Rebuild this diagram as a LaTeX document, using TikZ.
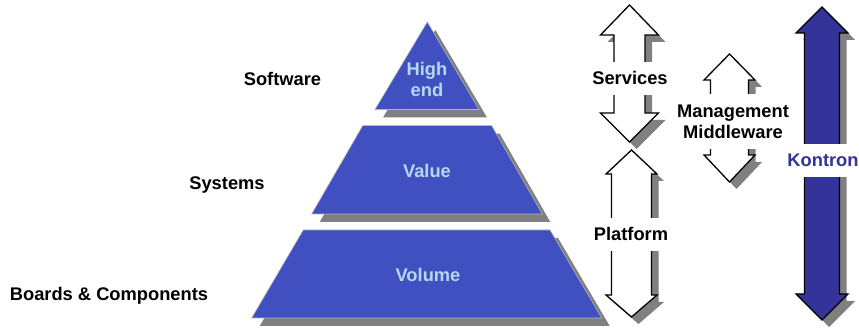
\documentclass[tikz,border=0pt]{standalone}
\usepackage{fontspec}
\setmainfont{Liberation Sans}
\usetikzlibrary{calc}
\definecolor{pyrblue}{RGB}{64,80,192}
\definecolor{pyrtext}{RGB}{178,218,238}
\definecolor{kblue}{RGB}{51,51,153}
\definecolor{shadowgray}{RGB}{128,128,128}
\tikzstyle{layer}=[fill=pyrblue,draw=gray!60,line width=0.6pt]
\tikzstyle{arrowshape}=[draw=black,line width=1.3pt,line join=miter]
\tikzstyle{bigfont}=[font=\bfseries\fontsize{18.3}{21}\selectfont]
\tikzstyle{sidetext}=[bigfont,inner sep=0pt,text height=13pt,text depth=0pt]
\tikzstyle{layertext}=[sidetext,text=pyrtext]
\tikzstyle{arrowtext}=[sidetext,fill=white,minimum height=33pt]

\begin{document}
\begin{tikzpicture}[x=1pt,y=-1pt]
\useasboundingbox (0,0) rectangle (859,328);

   \def\sx{8};
   \def\sy{8};

%pyramid, shadows first
    \foreach \pa/\pb/\pc/\pd in {{(427.3,22)/(479,109.5)/(479,109.5)/(375,109.5)},
                                 {(362.7,125.7)/(491.7,125.7)/(542.3,214)/(311.7,214)},
                                 {(303.3,230)/(550,230)/(601.7,318)/(251.7,318)}}
        \fill[shadowgray,shift={(\sx,\sy)}] \pa -- \pb -- \pc -- \pd -- cycle;
    \foreach \pa/\pb/\pc/\pd in {{(427.3,22)/(479,109.5)/(479,109.5)/(375,109.5)},
                                 {(362.7,125.7)/(491.7,125.7)/(542.3,214)/(311.7,214)},
                                 {(303.3,230)/(550,230)/(601.7,318)/(251.7,318)}}
        \filldraw[layer] \pa -- \pb -- \pc -- \pd -- cycle;

%layer labels
    \node[bigfont,text=pyrtext,align=center,inner sep=0pt] (high) at (427,79) {High\\end};
    \foreach \pos/\name/\text in {{(427,171)/value/Value}, {(428,275)/volume/Volume}}
        \node[layertext] (\name) at \pos {\text};

%side labels
    \foreach \pos/\name/\text in {{(282.5,79)/software/Software}, {(227,183)/systems/Systems}, {(109,294)/boards/Boards \& Components}}
        \node[sidetext] (\name) at \pos {\text};

%double arrows: centre/top/bottom/head lengths/head half width/shaft half width
    \foreach \cx/\yt/\yb/\ht/\hb/\hw/\sw/\col in {629.5/5/142/30/29/29/15.5/white,
                                                  631.5/150/317/24/22/25.5/20/white,
                                                  729.5/54/182/26/27/25.5/19/white,
                                                  822/7/320/26/26/26/17.5/kblue}
    {
        \def\arrowpath{(\cx,\yt) -- (\cx+\hw,\yt+\ht) -- (\cx+\sw,\yt+\ht) -- (\cx+\sw,\yb-\hb)
            -- (\cx+\hw,\yb-\hb) -- (\cx,\yb) -- (\cx-\hw,\yb-\hb) -- (\cx-\sw,\yb-\hb)
            -- (\cx-\sw,\yt+\ht) -- (\cx-\hw,\yt+\ht) -- cycle}
        \fill[shadowgray,shift={(7,7)}] \arrowpath;
        \filldraw[arrowshape,fill=\col] \arrowpath;
    }

%arrow labels
    \node[arrowtext] (services) at (630,78.5) {Services};
    \node[arrowtext] (platform) at (631,234.5) {Platform};
    \node[arrowtext,text=kblue] (kontron) at (823,160.5) {Kontron};
    \node[bigfont,fill=white,align=center,inner sep=0pt,minimum height=55pt] (mgmt) at (733,121.5) {Management\\Middleware};

\end{tikzpicture}
\end{document}
